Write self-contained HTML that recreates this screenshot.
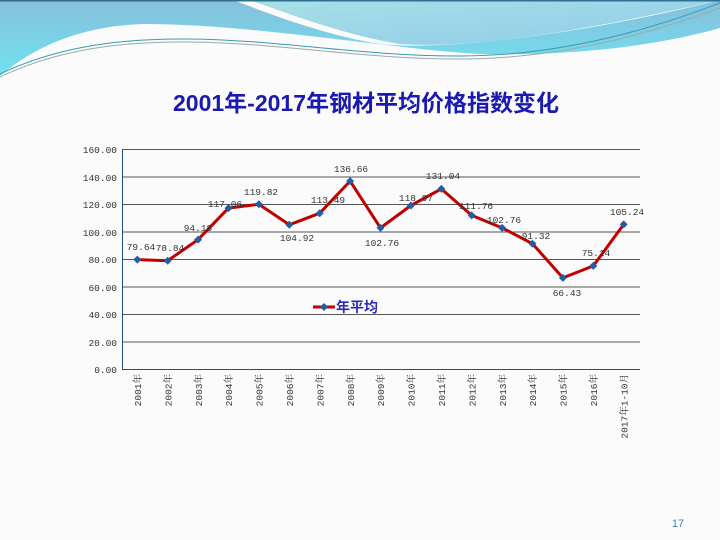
<!DOCTYPE html>
<html><head><meta charset="utf-8"><style>
html,body{margin:0;padding:0;background:#fbfbfb;}
svg{display:block}
</style></head><body>
<svg width="720" height="540" xmlns="http://www.w3.org/2000/svg">
<defs>
<linearGradient id="g1" x1="0" y1="0" x2="0" y2="1"><stop offset="0" stop-color="#86bfdc"/><stop offset="1" stop-color="#6fe3ef"/></linearGradient>
<linearGradient id="g2" x1="0" y1="0" x2="1" y2="1"><stop offset="0" stop-color="#a8e0e6"/><stop offset="1" stop-color="#8ecbea"/></linearGradient>
</defs>
<rect width="720" height="540" fill="#fbfbfb"/>
<path d="M0,0 H720 V28 C650,48 560,56 480,54 C400,50 260,25 150,24 C80,24 30,50 0,76 Z" fill="url(#g1)"/>
<path d="M233,0 C280,18 330,36 380,44 C430,50 560,40 720,0 Z" fill="#fbfbfb"/>
<path d="M250,0 C300,18 350,36 400,44 C470,49 580,32 720,0 Z" fill="url(#g2)"/>
<path d="M0,74 C50,50 110,38 190,39 C280,40 360,56 460,56 C560,56 650,30 720,3" fill="none" stroke="#3a9bb5" stroke-width="1"/>
<path d="M0,77 C50,53 110,41 190,42 C280,43 360,59 460,59 C560,59 650,34 720,8" fill="none" stroke="#9aa" stroke-width="1"/>
<rect x="0" y="0" width="720" height="1.5" fill="#2f6f8f"/>
<text x="366" y="111" text-anchor="middle" font-family="Liberation Sans, Noto Sans CJK SC, sans-serif" font-size="23" font-weight="bold" fill="#1a1ab0">2001年-2017年钢材平均价格指数变化</text>
<g stroke="#555" stroke-width="1">
<line x1="122.5" y1="149.5" x2="640" y2="149.5"/>
<line x1="122.5" y1="177" x2="640" y2="177"/>
<line x1="122.5" y1="204.5" x2="640" y2="204.5"/>
<line x1="122.5" y1="232" x2="640" y2="232"/>
<line x1="122.5" y1="259.5" x2="640" y2="259.5"/>
<line x1="122.5" y1="287" x2="640" y2="287"/>
<line x1="122.5" y1="314.5" x2="640" y2="314.5"/>
<line x1="122.5" y1="342" x2="640" y2="342"/>
</g>
<line x1="122.5" y1="149" x2="122.5" y2="369.5" stroke="#1f4f80"/>
<line x1="122" y1="369.5" x2="640" y2="369.5" stroke="#1f4f80"/>
<g font-family="Liberation Mono, Noto Serif CJK SC, monospace" font-size="9.5" fill="#333" text-anchor="end">
<text x="117" y="153">160.00</text><text x="117" y="181">140.00</text><text x="117" y="208">120.00</text><text x="117" y="236">100.00</text><text x="117" y="263">80.00</text><text x="117" y="291">60.00</text><text x="117" y="318">40.00</text><text x="117" y="346">20.00</text><text x="117" y="373">0.00</text>
</g>
<polyline fill="none" stroke="#c00000" stroke-width="3" stroke-linejoin="round" points="137.3,259.6 167.7,260.7 198.1,239.6 228.5,208.1 258.9,204.3 289.3,224.8 319.7,213.2 350.1,181.1 380.5,227.9 410.9,205.5 441.3,188.9 471.7,215.4 502.1,227.9 532.5,243.7 562.9,277.9 593.3,265.9 623.7,224.4"/>
<g fill="#1f5fa8">
<path d="M137.3,255.6l4,4l-4,4l-4,-4z"/><path d="M167.7,256.7l4,4l-4,4l-4,-4z"/><path d="M198.1,235.6l4,4l-4,4l-4,-4z"/><path d="M228.5,204.1l4,4l-4,4l-4,-4z"/><path d="M258.9,200.3l4,4l-4,4l-4,-4z"/><path d="M289.3,220.8l4,4l-4,4l-4,-4z"/><path d="M319.7,209.2l4,4l-4,4l-4,-4z"/><path d="M350.1,177.1l4,4l-4,4l-4,-4z"/><path d="M380.5,223.9l4,4l-4,4l-4,-4z"/><path d="M410.9,201.5l4,4l-4,4l-4,-4z"/><path d="M441.3,184.9l4,4l-4,4l-4,-4z"/><path d="M471.7,211.4l4,4l-4,4l-4,-4z"/><path d="M502.1,223.9l4,4l-4,4l-4,-4z"/><path d="M532.5,239.7l4,4l-4,4l-4,-4z"/><path d="M562.9,273.9l4,4l-4,4l-4,-4z"/><path d="M593.3,261.9l4,4l-4,4l-4,-4z"/><path d="M623.7,220.4l4,4l-4,4l-4,-4z"/>
</g>
<g font-family="Liberation Mono, monospace" font-size="9.5" fill="#333" text-anchor="middle">
<text x="141" y="250">79.64</text><text x="170" y="251">78.84</text><text x="198" y="231">94.18</text><text x="225" y="207">117.06</text><text x="261" y="195">119.82</text><text x="297" y="241">104.92</text><text x="328" y="203">113.49</text><text x="351" y="172">136.66</text><text x="382" y="246">102.76</text><text x="416" y="201">118.97</text><text x="443" y="179">131.04</text><text x="476" y="209">111.76</text><text x="504" y="223">102.76</text><text x="536" y="239">91.32</text><text x="567" y="296">66.43</text><text x="596" y="256">75.14</text><text x="627" y="215">105.24</text>
</g>
<g font-family="Liberation Mono, Noto Serif CJK SC, monospace" font-size="9.5" fill="#333" text-anchor="end">
<text transform="translate(141,374) rotate(-90)">2001年</text><text transform="translate(171.4,374) rotate(-90)">2002年</text><text transform="translate(201.8,374) rotate(-90)">2003年</text><text transform="translate(232.2,374) rotate(-90)">2004年</text><text transform="translate(262.6,374) rotate(-90)">2005年</text><text transform="translate(293,374) rotate(-90)">2006年</text><text transform="translate(323.4,374) rotate(-90)">2007年</text><text transform="translate(353.8,374) rotate(-90)">2008年</text><text transform="translate(384.2,374) rotate(-90)">2009年</text><text transform="translate(414.6,374) rotate(-90)">2010年</text><text transform="translate(445,374) rotate(-90)">2011年</text><text transform="translate(475.4,374) rotate(-90)">2012年</text><text transform="translate(505.8,374) rotate(-90)">2013年</text><text transform="translate(536.2,374) rotate(-90)">2014年</text><text transform="translate(566.6,374) rotate(-90)">2015年</text><text transform="translate(597,374) rotate(-90)">2016年</text><text transform="translate(627.4,374) rotate(-90)">2017年1-10月</text>
</g>
<line x1="313" y1="307" x2="335" y2="307" stroke="#c00000" stroke-width="3"/>
<path d="M324,303l4,4l-4,4l-4,-4z" fill="#1f5fa8"/>
<text x="336" y="312" font-family="Liberation Sans, Noto Sans CJK SC, sans-serif" font-size="14" font-weight="bold" fill="#2a2ab5">年平均</text>
<text x="678" y="527" text-anchor="middle" font-family="Liberation Sans, sans-serif" font-size="11" fill="#4a7fb0">17</text>
</svg>
</body></html>
